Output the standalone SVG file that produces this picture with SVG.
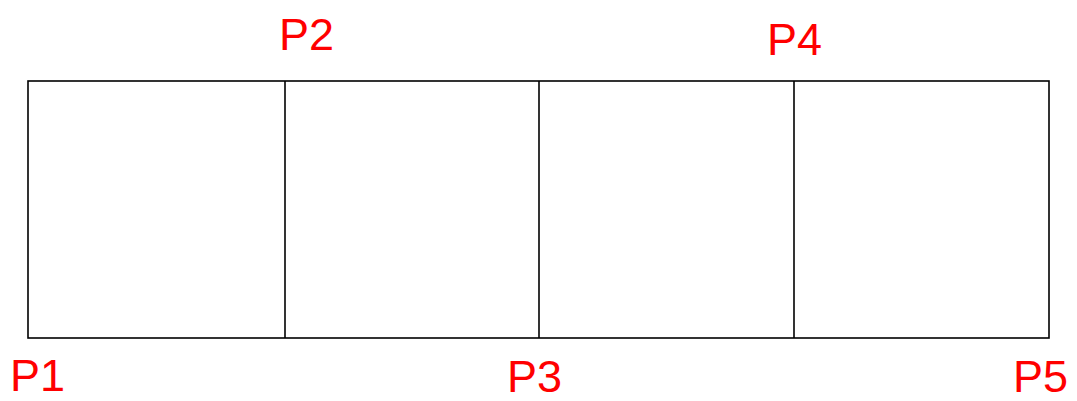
<svg xmlns="http://www.w3.org/2000/svg" width="1077" height="401" viewBox="0 0 1077 401">
<style>
.lbl{font-family:"Liberation Sans",Arial,sans-serif;font-size:45px;fill:#ff0000;}
.ln{stroke:#000;stroke-width:1.6;fill:none;}
</style>
<rect width="1077" height="401" fill="#fff"/>
<g id="connectors">
<rect class="ln" x="28" y="81" width="1021" height="257"/>
<line class="ln" x1="285" y1="81" x2="285" y2="338"/>
<line class="ln" x1="539" y1="81" x2="539" y2="338"/>
<line class="ln" x1="794" y1="81" x2="794" y2="338"/>
</g>
<g id="P1"><text class="lbl" x="10" y="391">P1</text></g>
<g id="P2"><text class="lbl" x="279" y="50">P2</text></g>
<g id="P3"><text class="lbl" x="507" y="392">P3</text></g>
<g id="P4"><text class="lbl" x="767" y="55">P4</text></g>
<g id="P5"><text class="lbl" x="1013" y="392">P5</text></g>
</svg>
